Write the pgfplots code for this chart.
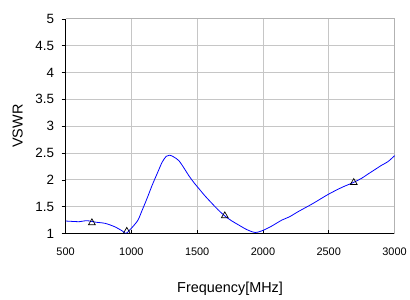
\documentclass[border=0pt]{standalone}
\usepackage{pgfplots}
\pgfplotsset{compat=1.18}
\usepackage{fontspec}
\setmainfont{Liberation Sans}
\begin{document}
\begin{tikzpicture}
\begin{axis}[
  scale only axis,
  width=331bp, height=216bp,
  xmin=500, xmax=3000, ymin=1, ymax=5,
  xtick={500,1000,...,3000},
  ytick={1,1.5,...,5},
  yticklabels={1,1.5,2,2.5,3,3.5,4,4.5,5},
  /pgf/number format/assume math mode=true,
  /pgf/number format/1000 sep={},
  xticklabel style={font=\fontsize{11bp}{12bp}\selectfont, yshift=-11bp},
  yticklabel style={font=\fontsize{13.5bp}{14bp}\selectfont, xshift=-4bp},
  xlabel={Frequency[MHz]},
  ylabel={VSWR},
  xlabel style={font=\fontsize{14.5bp}{16bp}\selectfont, yshift=-20bp},
  ylabel style={font=\fontsize{14.5bp}{16bp}\selectfont, yshift=6bp},
  grid=major,
  grid style={gray!45, line width=0.8pt},
  axis line style={gray!60, line width=0.8pt},
  axis x line*=bottom, axis y line*=left,
  separate axis lines,
  x axis line style={black, -},
  y axis line style={black, -},
  tick style={black, line width=0.6pt},
  major tick length=4bp,
  xtick pos=bottom, ytick pos=left,
  xtick align=inside, ytick align=outside,
  clip=false,
]
\draw[gray!60, line width=0.8pt] (axis cs:500,5) -- (axis cs:3000,5) -- (axis cs:3000,1);
\addplot[blue, line width=0.8pt, smooth, tension=0.5] coordinates {
(500,1.233) (560,1.225) (600,1.22) (660,1.24) (700,1.225) (734,1.21) (800,1.19)
(870,1.13) (930,1.05) (958,1.00) (985,1.06) (1008,1.12) (1050,1.25) (1083,1.44)
(1120,1.66) (1158,1.90) (1200,2.14) (1234,2.33) (1265,2.44) (1290,2.46) (1320,2.43)
(1360,2.36) (1400,2.22) (1436,2.08) (1475,1.95) (1512,1.84) (1560,1.70) (1613,1.56)
(1660,1.44) (1709,1.33) (1760,1.24) (1815,1.16) (1880,1.07) (1941,1.02) (1991,1.05)
(2060,1.13) (2143,1.25) (2200,1.31) (2269,1.41) (2380,1.56) (2496,1.73) (2600,1.86)
(2686,1.95) (2750,2.03) (2799,2.11) (2850,2.19) (2900,2.27) (2950,2.34) (3000,2.45)
};
\addplot[only marks, mark=triangle, mark size=4pt, mark options={black, line width=0.7pt, fill=white}] coordinates {
(700,1.20) (965,1.04) (1710,1.33) (2690,1.95)
};
\end{axis}
\path (current axis.south west) ++(-66bp,-65bp) rectangle ++(410bp,300bp);
\end{tikzpicture}
\end{document}
